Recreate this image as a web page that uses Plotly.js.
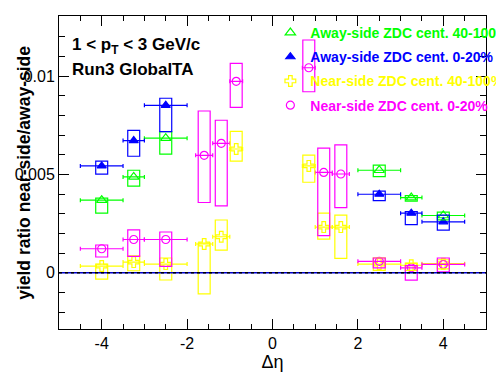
<!DOCTYPE html>
<html>
<head>
<meta charset="utf-8">
<script src="https://cdn.plot.ly/plotly-3.0.1.min.js"></script>
<style>html,body{margin:0;padding:0;background:#fff;}</style>
</head>
<body>
<div id="chart" style="width:496px;height:374px;"></div>
<script>
// ---- data (yield ratio in units of 1e-3) ----
const awayX    = [-4, -3.25, -2.5, 2.5, 3.25, 4];
const awayXerr = [0.5, 0.25, 0.5, 0.5, 0.25, 0.5];
const nearX    = [-4, -3.25, -2.5, -1.6, -1.2, -0.85, 0.85, 1.2, 1.6, 2.5, 3.25, 4];
const nearXerr = [0.5, 0.25, 0.5, 0.2, 0.2, 0.15, 0.15, 0.2, 0.2, 0.5, 0.25, 0.5];

const awayPeriph     = [3.69, 4.87, 6.84, 5.21, 3.82, 2.91];
const awayPeriphLow  = [3.03, 4.40, 6.03, 4.89, 3.64, 2.69];
const awayPeriphHigh = [3.79, 5.21, 7.17, 5.47, 3.92, 3.08];

const awayCent     = [5.43, 6.72, 8.51, 3.99, 3.03, 2.59];
const awayCentLow  = [5.01, 5.92, 7.17, 3.67, 2.45, 2.17];
const awayCentHigh = [5.67, 7.24, 8.87, 4.15, 3.11, 2.93];

const nearPeriph     = [0.34, 0.54, 0.44, 1.46, 1.83, 6.29, 5.43, 2.32, 2.32, 0.44, 0.38, 0.46];
const nearPeriphLow  = [-0.32, 0.10, -0.37, -1.07, 1.15, 5.67, 4.60, 1.71, 0.73, 0.12, 0.12, 0.20];
const nearPeriphHigh = [0.44, 0.86, 0.75, 1.51, 2.68, 7.19, 5.98, 3.03, 2.93, 0.76, 0.49, 0.66];

const nearCent     = [1.22, 1.69, 1.69, 5.97, 6.58, 9.73, 10.42, 5.10, 5.02, 0.58, 0.25, 0.42];
const nearCentLow  = [0.80, 0.83, 0.32, 3.57, 3.40, 8.41, 9.20, 1.89, 3.31, 0.25, -0.38, 0.04];
const nearCentHigh = [1.41, 2.18, 2.07, 8.22, 7.75, 10.64, 11.83, 6.33, 6.50, 0.75, 0.36, 0.75];

const seriesNames = ['Away-side ZDC cent. 40-100%', 'Away-side ZDC cent. 0-20%',
                     'Near-side ZDC cent. 40-100%', 'Near-side ZDC cent. 0-20%'];
const xTicks = [-4, -2, 0, 2, 4];
const xTickText = ['-4', '-2', '0', '2', '4'];
const yTicks = [0, 0.005, 0.01];
const yTickText = ['0', '0.005', '0.01'];
const SCALE = 1e-3;
const ZERO = 0;

// ---- styles ----
const BOXHW = 0.14;
const FONT = 'Liberation Sans, Arial, Helvetica, sans-serif';
const series = [
  {x: awayX, ex: awayXerr, y: awayPeriph, lo: awayPeriphLow, hi: awayPeriphHigh, color: '#00ff00', symbol: 'triangle-up-open', size: 9},
  {x: awayX, ex: awayXerr, y: awayCent,   lo: awayCentLow,   hi: awayCentHigh,   color: '#0000ff', symbol: 'triangle-up',      size: 8},
  {x: nearX, ex: nearXerr, y: nearPeriph, lo: nearPeriphLow, hi: nearPeriphHigh, color: '#ffff00', symbol: 'cross-open',       size: 9},
  {x: nearX, ex: nearXerr, y: nearCent,   lo: nearCentLow,   hi: nearCentHigh,   color: '#ff00ff', symbol: 'circle-open',      size: 8}
];

const traces = [];
const shapes = [];
series.forEach((s, i) => {
  traces.push({
    type: 'scatter', mode: 'markers',
    x: s.x, y: s.y.map(v => v * SCALE),
    name: '<span style="color:' + s.color + '">' + seriesNames[i] + '</span>',
    legendgroup: 'g' + i,
    marker: {symbol: s.symbol, size: s.size, color: s.color, line: {color: s.color, width: 1.2}},
    error_x: {type: 'data', array: s.ex, color: s.color, thickness: 1.2, width: 2},
    cliponaxis: true
  });
  s.x.forEach((xv, j) => {
    shapes.push({type: 'rect', xref: 'x', yref: 'y',
      x0: xv - BOXHW, x1: xv + BOXHW, y0: s.lo[j] * SCALE, y1: s.hi[j] * SCALE,
      line: {color: s.color, width: 1.2}, fillcolor: 'rgba(0,0,0,0)', layer: 'above'});
  });
});
shapes.push({type: 'line', xref: 'paper', yref: 'y', x0: 0, x1: 1, y0: ZERO, y1: ZERO,
  line: {color: '#0000cc', width: 1.5}});
shapes.push({type: 'line', xref: 'paper', yref: 'y', x0: 0, x1: 1, y0: ZERO, y1: ZERO,
  line: {color: '#000000', width: 1.5, dash: 'dot'}});

const axisCommon = {
  ticks: 'inside', tickcolor: '#000', tickwidth: 1,
  showline: true, linecolor: '#000', linewidth: 1, mirror: 'allticks',
  showgrid: false, zeroline: false,
  tickfont: {family: FONT, size: 16, color: '#000'}
};

const layout = {
  width: 496, height: 374,
  margin: {l: 59, r: 10, t: 16, b: 45, autoexpand: false},
  paper_bgcolor: '#fff', plot_bgcolor: '#fff',
  font: {family: FONT, color: '#000'},
  showlegend: true,
  legend: {x: 0.495, y: 0.997, xanchor: 'left', yanchor: 'top',
    bgcolor: 'rgba(0,0,0,0)', borderwidth: 0, tracegroupgap: 3,
    font: {family: FONT, size: 14, weight: 'bold'}},
  xaxis: Object.assign({}, axisCommon, {
    range: [-5, 5], tickmode: 'array', tickvals: xTicks, ticktext: xTickText, ticklen: 10,
    minor: {tickmode: 'linear', tick0: 0, dtick: 0.5, ticklen: 5, ticks: 'inside', tickcolor: '#000', showgrid: false},
    title: {text: 'Δη', font: {family: FONT, size: 18, color: '#000'}, standoff: 0}
  }),
  yaxis: Object.assign({}, axisCommon, {
    range: [-0.00286, 0.01305], tickmode: 'array', tickvals: yTicks, ticktext: yTickText, ticklen: 10,
    minor: {tickmode: 'linear', tick0: 0, dtick: 0.001, ticklen: 6, ticks: 'inside', tickcolor: '#000', showgrid: false}
  }),
  shapes: shapes,
  annotations: [
    {xref: 'paper', yref: 'paper', x: (70 - 59) / 427, y: (329.3 - 33) / 313.3, xanchor: 'left', yanchor: 'top',
     text: '1 &lt; p<sub>T</sub> &lt; 3 GeV/c', showarrow: false,
     font: {family: FONT, size: 17, weight: 'bold', color: '#000'}},
    {xref: 'paper', yref: 'paper', x: (70 - 59) / 427, y: (329.3 - 70) / 313.3, xanchor: 'left', yanchor: 'middle',
     text: 'Run3 GlobalTA', showarrow: false,
     font: {family: FONT, size: 17, weight: 'bold', color: '#000'}},
    {xref: 'paper', yref: 'paper', x: (24 - 59) / 427, y: (329.3 - 173) / 313.3, xanchor: 'center', yanchor: 'middle',
     text: 'yield ratio near-side/away-side', textangle: -90, showarrow: false,
     font: {family: FONT, size: 17.5, weight: 'bold', color: '#000'}}
  ]
};

Plotly.newPlot('chart', traces, layout, {staticPlot: true, displayModeBar: false});
</script>
</body>
</html>
